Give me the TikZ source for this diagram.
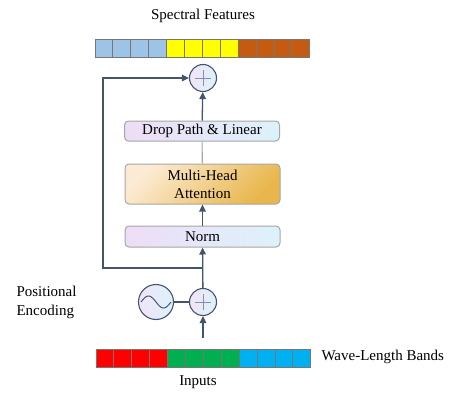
\documentclass[tikz,border=0pt]{standalone}
\usepackage{fontspec}
\setmainfont{Liberation Serif}
\usetikzlibrary{arrows.meta}
\definecolor{linec}{HTML}{44546A}
\definecolor{boxgray}{HTML}{A6A6A6}
\definecolor{cellgray}{HTML}{767676}
\definecolor{lav}{HTML}{EEDDF6}
\definecolor{icecyan}{HTML}{DCF2FA}
\definecolor{peach}{HTML}{FCEBD4}
\definecolor{gold}{HTML}{E8B64C}
\definecolor{skyb}{HTML}{9DC3E6}
\definecolor{yel}{HTML}{FFFF00}
\definecolor{rust}{HTML}{C55A11}
\definecolor{redc}{HTML}{FF0000}
\definecolor{greenc}{HTML}{00B050}
\definecolor{cyanc}{HTML}{00B0F0}
\definecolor{plusg}{HTML}{8A8FA8}
\begin{document}
\begin{tikzpicture}[x=1pt,y=-1pt,
  font=\fontsize{15}{18}\selectfont,
  flow/.style={draw=linec, line width=1.3pt},
  arr/.style={flow, -{Triangle[length=7pt,width=6.5pt]}},
  block/.style={draw=boxgray, line width=1pt, rounded corners=4pt,
    minimum width=155pt, inner sep=0pt, align=center},
  softblock/.style={block, left color=lav, right color=icecyan},
  goldblock/.style={block, top color=peach, bottom color=gold, shading angle=45},
  roundel/.style={circle, draw=linec, line width=1.1pt, inner sep=0pt,
    left color=lav!80, right color=icecyan},
  adder/.style={roundel, minimum size=27pt,
    path picture={
      \draw[plusg, line width=0.9pt]
        ([xshift=-8pt]path picture bounding box.center) -- ([xshift=8pt]path picture bounding box.center)
        ([yshift=-8pt]path picture bounding box.center) -- ([yshift=8pt]path picture bounding box.center);}},
  cell/.style={draw=cellgray, line width=0.9pt}
]
\useasboundingbox (0,0) rectangle (450,396);

% token bars
\foreach \c [count=\i from 0] in {skyb,skyb,skyb,skyb,yel,yel,yel,yel,rust,rust,rust,rust}
  \filldraw[cell, fill=\c] ({95+17.9*\i},39.5) rectangle ({95+17.9*(\i+1)},57.5);
\foreach \c [count=\i from 0] in {redc,redc,redc,redc,greenc,greenc,greenc,greenc,cyanc,cyanc,cyanc,cyanc}
  \filldraw[cell, fill=\c] ({96+17.9*\i},349) rectangle ({96+17.9*(\i+1)},367);

% labels
\node (title) at (203,16) {Spectral Features};
\node[anchor=west] (bands) at (318,357) {Wave-Length Bands};
\node (inputs) at (198,382) {Inputs};
\node[anchor=west, align=left, font=\fontsize{15}{19}\selectfont] (pelabel) at (13,302) {Positional\\Encoding};

% encoder block
\node[softblock, minimum height=20pt] (drop) at (202,131) {Drop Path \& Linear};
\node[goldblock, minimum height=40pt, font=\fontsize{15}{18}\selectfont] (mha) at (202.5,184) {Multi-Head\\Attention};
\node[softblock, minimum height=21pt] (norm) at (202.5,236.5) {Norm};

\node[adder] (addtop) at (203,78) {};
\node[adder] (addpe) at (203,302) {};
\node[roundel, minimum size=35pt] (pe) at (156,302) {};
\draw[linec, line width=1pt, shift={(pe.center)}]
  plot[domain=-15:15, samples=50, smooth] (\x, {6*sin(\x*12)});

\coordinate (in) at (203,338);
\coordinate (split) at (203,268);
\coordinate (loopbl) at (103,268);
\coordinate (looptl) at (103,78);

% connectors
\draw[arr] (in) -- (addpe);
\draw[flow] (pe) -- (addpe);
\draw[arr] (addpe) -- (norm);
\draw[arr] (norm) -- (mha);
\draw[draw=boxgray, line width=1.1pt] (mha) -- (drop);
\draw[arr] (drop) -- (addtop);
\draw[arr] (split) -- (loopbl) -- (looptl) -- (addtop);
\end{tikzpicture}
\end{document}
